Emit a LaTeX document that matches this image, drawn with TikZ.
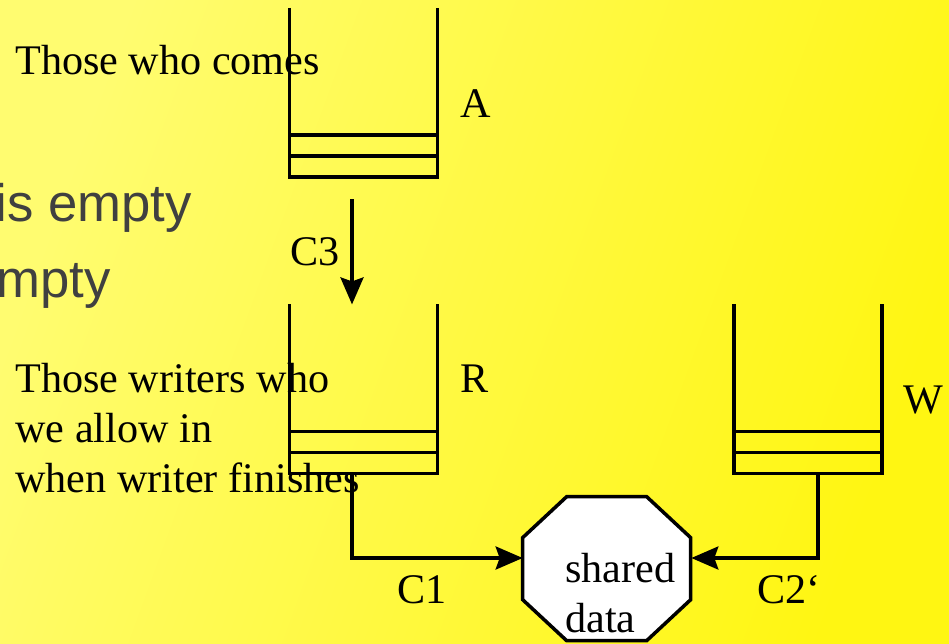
\documentclass[tikz,border=0pt]{standalone}
\usepackage{fontspec}
\setmainfont{Liberation Serif}
\newfontfamily\slidesans{Liberation Sans}
\usetikzlibrary{arrows.meta}

\definecolor{slidelight}{RGB}{255,252,112}
\definecolor{slidedeep}{RGB}{255,246,18}
\definecolor{slidegray}{RGB}{64,64,64}

\begin{document}
\begin{tikzpicture}[x=0.02cm, y=-0.02cm,
  >={Stealth[length=0.54cm, width=0.46cm, inset=0.08cm]},
  wall/.style={line width=2pt},
  queue/.style={rectangle, minimum width=2.94cm, minimum height=3.37cm, inner sep=0},
  lbl/.style={font=\fontsize{24}{28.45}\selectfont, align=left, inner sep=0, anchor=base west},
  faded/.style={font=\slidesans\fontsize{30}{36}\selectfont, text=slidegray, inner sep=0, anchor=base east}]
  % slide background
  \useasboundingbox (0,0) rectangle (949,643);
  \shade[left color=slidelight, right color=slidedeep, shading angle=70] (0,0) rectangle (949,643);
  \node[faded] (empty1) at (192,221) {is empty};
  \node[faded] (empty2) at (111,297) {mpty};
  % queues
  \foreach \q/\x/\y in {A/363.5/92.5, R/363.5/389, W/808/389} {
    \node[queue] (q\q) at (\x,\y) {};
    \draw[wall] (q\q.north west) |- (q\q.south east) -- (q\q.north east);
    \foreach \h in {0.42cm, 0.84cm}
      \draw[wall] ([yshift=\h]q\q.south west) -- ([yshift=\h]q\q.south east);
  }
  \node[lbl] (labA) at (460,117) {A};
  \node[lbl] (labR) at (460,392) {R};
  \node[lbl] (labW) at (903,413) {W};
  % shared data (base anchor sits on the last line)
  \node[inner sep=0, minimum width=3.36cm, minimum height=2.88cm] (data) at (607,569) {};
  \draw[wall, fill=white] (data.north west) ++(44,0) -- ++(80,0) -- ++(44,41) -- ++(0,62)
    -- ++(-44,41) -- ++(-80,0) -- ++(-44,-41) -- ++(0,-62) -- cycle;
  \node[lbl] (dataText) at (565,632) {shared\\data};
  % conditions
  \draw[wall, ->] ([xshift=-0.23cm, yshift=-0.44cm]qA.south) -- ([xshift=-0.23cm]qR.north);
  \draw[wall, ->] ([xshift=-0.23cm]qR.south) |- ([yshift=0.22cm]data.west);
  \draw[wall, ->] ([xshift=0.2cm]qW.south) |- ([yshift=0.22cm]data.east);
  \node[lbl] (c3) at (290,265) {C3};
  \node[lbl] (c1) at (397,603) {C1};
  \node[lbl] (c2) at (757,603) {C2‘};
  % notes
  \node[lbl] (comes) at (15,74) {Those who comes};
  \node[lbl] (allowed) at (15,492) {Those writers who\\we allow in\\when writer finishes};
\end{tikzpicture}
\end{document}
